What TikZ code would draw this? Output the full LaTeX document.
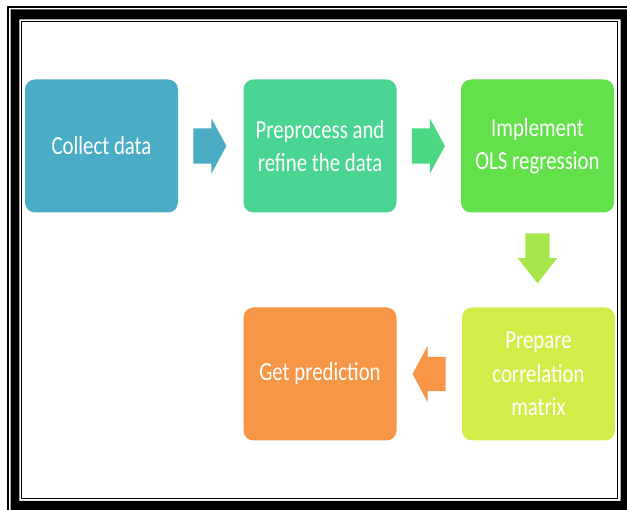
\documentclass[tikz,border=0pt]{standalone}
\usepackage{fontspec}
\usepackage{xcolor}
\usepackage{tikz}
\usetikzlibrary{shapes.arrows,calc}

\newfontfamily\stepfont[FakeStretch=0.8]{Carlito}

\definecolor{collectblue}{HTML}{4BACC6}
\definecolor{refinegreen}{HTML}{4AD592}
\definecolor{olsgreen}{HTML}{62E14A}
\definecolor{corrlime}{HTML}{D4EC4A}
\definecolor{predorange}{HTML}{F79646}
\definecolor{arrowgreen}{HTML}{4DD885}
\definecolor{arrowlime}{HTML}{A8E64E}

\begin{document}
\begin{tikzpicture}[x=1pt, y=-1pt,
    stepbox/.style={rounded corners=10pt, minimum width=153pt, minimum height=133pt,
      inner sep=2pt, align=center, text=white, font=\stepfont\fontsize{26}{33.5}\selectfont},
    harrow/.style={single arrow, anchor=tail, inner xsep=0pt, inner ysep=17.5pt, minimum height=33pt,
      single arrow head extend=10pt, single arrow tip angle=123},
    varrow/.style={single arrow, anchor=tail, inner sep=12pt, minimum height=50pt,
      single arrow head extend=7.5pt, single arrow tip angle=76, shape border rotate=270},
    larrow/.style={single arrow, anchor=tail, inner xsep=0pt, inner ysep=17pt, minimum height=33pt,
      single arrow head extend=11pt, single arrow tip angle=124, shape border rotate=180}]
  \useasboundingbox (0,0) rectangle (627,510);

  \draw[line width=1.5pt] (7.8,510) -- (7.8,6.8) -- (627,6.8);
  \fill[even odd rule] (10.5,9.3) rectangle (627,510) (19.3,19.3) rectangle (620.5,501);
  \draw[line width=1.5pt] (21.5,21.5) rectangle (617.5,498.3);

  \foreach \x/\y/\c/\t [count=\i from 1] in {101.5/146/collectblue/{Collect data},
      320/146/refinegreen/{Preprocess and\\refine the data},
      537.5/146/olsgreen/{Implement\\OLS regression},
      538.5/374/corrlime/{Prepare\\correlation\\matrix},
      320/374/predorange/{Get prediction}}{%
    \node[stepbox, fill=\c] (s\i) at (\x,\y) {\t};
  }

  \node[harrow, fill=collectblue] (a1) at ($(s1.east)+(15,0)$) {};
  \node[harrow, fill=arrowgreen] (a2) at ($(s2.east)+(15,0)$) {};
  \node[varrow, fill=arrowlime] (a3) at ($(s3.south)+(0,20.5)$) {};
  \node[larrow, fill=predorange] (a4) at ($(s4.west)+(-16,0)$) {};
\end{tikzpicture}
\end{document}
